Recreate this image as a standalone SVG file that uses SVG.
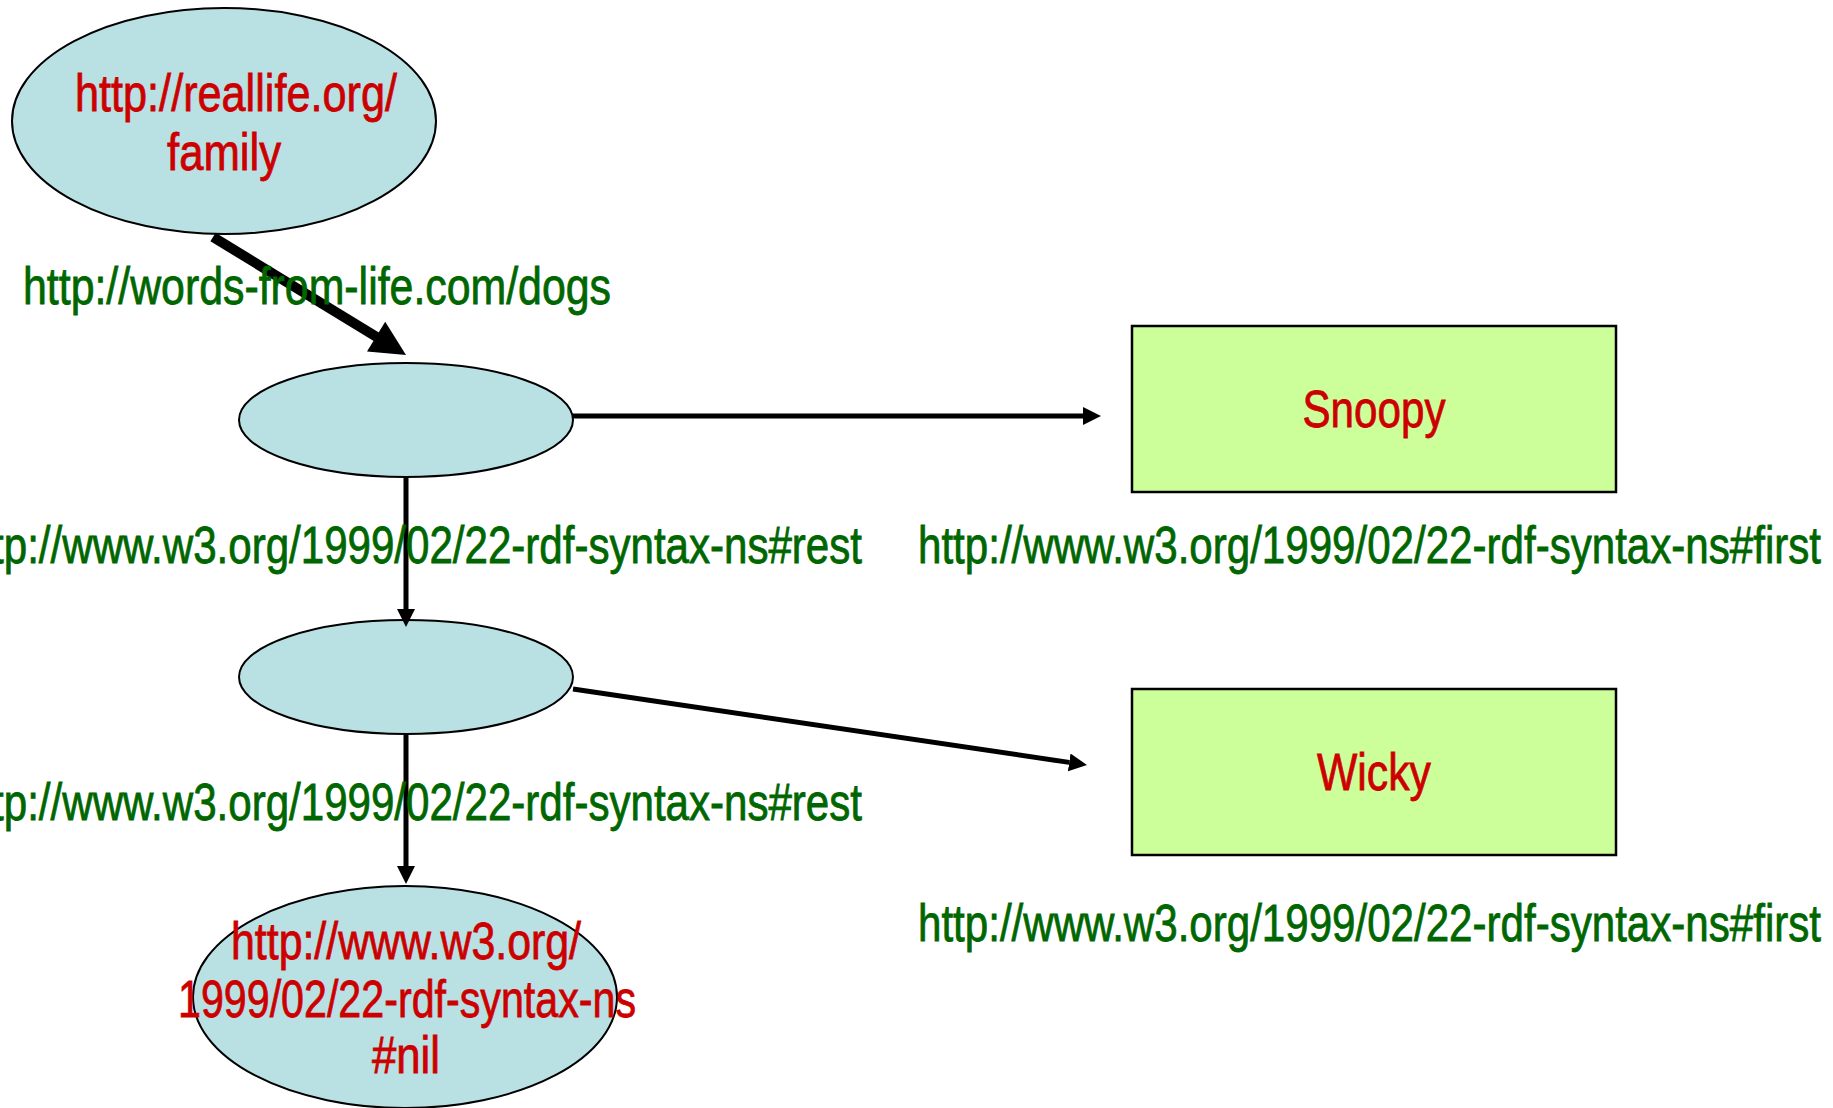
<svg xmlns="http://www.w3.org/2000/svg" width="1833" height="1108" viewBox="0 0 1833 1108">
<style>
.ell{fill:#B9E0E3;stroke:#000;stroke-width:2}
.box{fill:#CCFF99;stroke:#000;stroke-width:2.5}
.t{font-family:"Liberation Sans Narrow","Liberation Sans",Arial,sans-serif;font-size:52px;stroke-width:0.8}
.red{fill:#CC0000;stroke:#CC0000}
.grn{fill:#006600;stroke:#006600}
.ln{stroke:#000;stroke-width:5;fill:none}
</style>
<defs>
<marker id="ah" markerUnits="userSpaceOnUse" markerWidth="20" markerHeight="20" refX="0" refY="9" orient="auto">
<path d="M0,0 L18,9 L0,18 Z" fill="#000"/>
</marker>
</defs>
<g id="n-family">
<ellipse class="ell" cx="224" cy="121" rx="212" ry="113"/>
<text class="t red" x="236" y="111" text-anchor="middle" textLength="322" lengthAdjust="spacingAndGlyphs">http://reallife.org/</text>
<text class="t red" x="224" y="170" text-anchor="middle" textLength="114" lengthAdjust="spacingAndGlyphs">family</text>
</g>
<g id="n-b1"><ellipse class="ell" cx="406" cy="420" rx="167" ry="57"/></g>
<g id="n-b2"><ellipse class="ell" cx="406" cy="677" rx="167" ry="57"/></g>
<g id="n-snoopy">
<rect class="box" x="1132" y="326" width="484" height="166"/>
<text class="t red" x="1374" y="427" text-anchor="middle" textLength="143" lengthAdjust="spacingAndGlyphs">Snoopy</text>
</g>
<g id="n-wicky">
<rect class="box" x="1132" y="689" width="484" height="166"/>
<text class="t red" x="1374" y="790" text-anchor="middle" textLength="114" lengthAdjust="spacingAndGlyphs">Wicky</text>
</g>
<g id="connectors">
<line class="ln" x1="213" y1="237" x2="380" y2="339" style="stroke-width:10"/>
<polygon points="406,355 367,351.6 385.2,321.8" fill="#000"/>
<line class="ln" x1="573" y1="416" x2="1083" y2="416" marker-end="url(#ah)"/>
<line class="ln" x1="406" y1="477" x2="406" y2="609" marker-end="url(#ah)"/>
<line class="ln" x1="573" y1="689" x2="1069.2" y2="762.4" marker-end="url(#ah)"/>
<line class="ln" x1="406" y1="734" x2="406" y2="866" marker-end="url(#ah)"/>
</g>
<g id="labels">
<text class="t grn" x="23" y="304" textLength="588" lengthAdjust="spacingAndGlyphs">http://words-from-life.com/dogs</text>
<text class="t grn" x="862" y="563" text-anchor="end" textLength="905" lengthAdjust="spacingAndGlyphs">http://www.w3.org/1999/02/22-rdf-syntax-ns#rest</text>
<text class="t grn" x="918" y="563" textLength="903" lengthAdjust="spacingAndGlyphs">http://www.w3.org/1999/02/22-rdf-syntax-ns#first</text>
<text class="t grn" x="862" y="820" text-anchor="end" textLength="905" lengthAdjust="spacingAndGlyphs">http://www.w3.org/1999/02/22-rdf-syntax-ns#rest</text>
<text class="t grn" x="918" y="941" textLength="903" lengthAdjust="spacingAndGlyphs">http://www.w3.org/1999/02/22-rdf-syntax-ns#first</text>
</g>
<g id="n-nil">
<ellipse class="ell" cx="405" cy="997" rx="212" ry="111"/>
<text class="t red" x="406" y="959" text-anchor="middle" textLength="350" lengthAdjust="spacingAndGlyphs">http://www.w3.org/</text>
<text class="t red" x="407" y="1017" text-anchor="middle" textLength="458" lengthAdjust="spacingAndGlyphs">1999/02/22-rdf-syntax-ns</text>
<text class="t red" x="406" y="1073" text-anchor="middle" textLength="68" lengthAdjust="spacingAndGlyphs">#nil</text>
</g>
</svg>
